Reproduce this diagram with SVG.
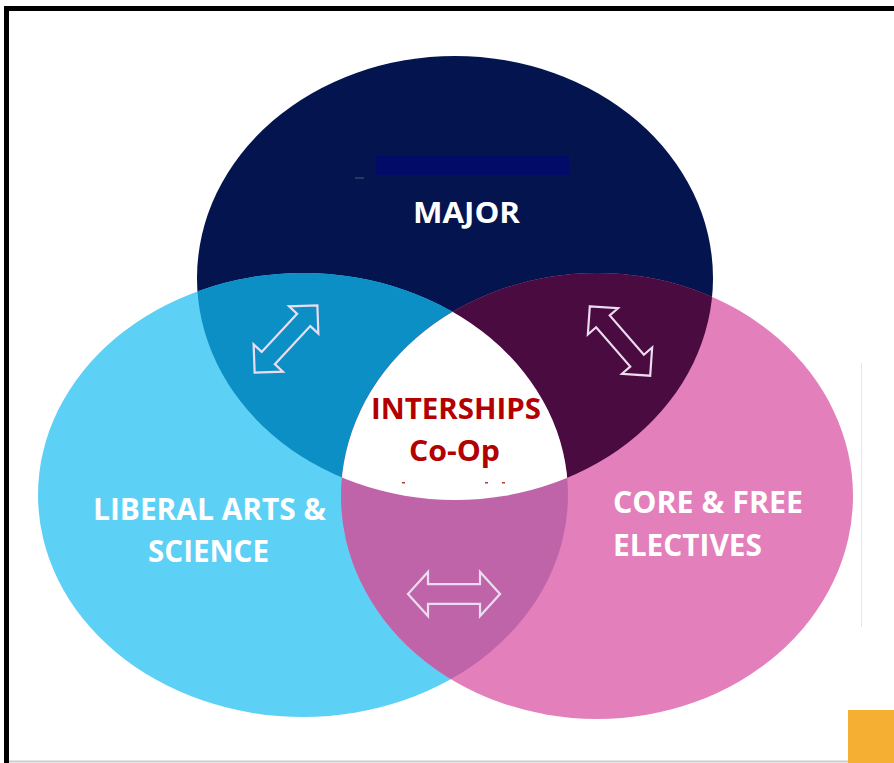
<svg xmlns="http://www.w3.org/2000/svg" width="894" height="763" viewBox="0 0 894 763">
  <style>
    .lbl { font-family: "Open Sans", "Liberation Sans", sans-serif; font-weight: bold; fill: #ffffff; }
    .red { font-family: "Open Sans", "Liberation Sans", sans-serif; font-weight: bold; fill: #b30000; }
    .arrow { fill: none; stroke: #ecdcf0; stroke-width: 2.2; stroke-linejoin: miter; }
  </style>
  <defs>
    <clipPath id="cNavy"><ellipse cx="455" cy="278" rx="258" ry="222"/></clipPath>
    <clipPath id="cLeft"><ellipse cx="303" cy="495" rx="265" ry="222"/></clipPath>
    <polygon id="dbl" points="-46,0 -26,-20 -26,-9 26,-9 26,-20 46,0 26,20 26,9 -26,9 -26,20"/>
  </defs>
  <rect width="894" height="763" fill="#ffffff"/>
  <!-- frame -->
  <path d="M6.5,763 V8.5 H894" fill="none" stroke="#000000" stroke-width="5"/>
  <line x1="9" y1="761.5" x2="848" y2="761.5" stroke="#cccccc" stroke-width="2"/>
  <line x1="861.5" y1="363" x2="861.5" y2="627" stroke="#f7dcec" stroke-width="1"/>

  <g id="major">
    <ellipse cx="455" cy="278" rx="258" ry="222" fill="#03144e"/>
  </g>
  <g id="liberal-arts">
    <ellipse cx="303" cy="495" rx="265" ry="222" fill="#5dd0f5"/>
  </g>
  <g id="core-free">
    <ellipse cx="597" cy="496" rx="256" ry="223" fill="#e37fbb"/>
  </g>
  <!-- overlaps -->
  <g id="overlaps">
    <g clip-path="url(#cNavy)">
      <ellipse cx="303" cy="495" rx="265" ry="222" fill="#0b8fc5"/>
      <ellipse cx="597" cy="496" rx="256" ry="223" fill="#490b40"/>
    </g>
    <g clip-path="url(#cLeft)">
      <ellipse cx="597" cy="496" rx="256" ry="223" fill="#c064a9"/>
      <g clip-path="url(#cNavy)">
        <ellipse cx="597" cy="496" rx="256" ry="223" fill="#ffffff"/>
      </g>
    </g>
  </g>

  <g id="major-label">
    <rect x="376" y="156" width="193" height="19" fill="#020b68"/>
    <rect x="355" y="177" width="9" height="2" fill="#2a3560"/>
    <text class="lbl" x="413" y="223" font-size="29" textLength="107" lengthAdjust="spacingAndGlyphs">MAJOR</text>
  </g>
  <g id="liberal-label">
    <text class="lbl" x="93" y="520" font-size="30" textLength="233" lengthAdjust="spacingAndGlyphs">LIBERAL ARTS &amp;</text>
    <text class="lbl" x="148" y="562" font-size="30" textLength="121" lengthAdjust="spacingAndGlyphs">SCIENCE</text>
  </g>
  <g id="core-label">
    <text class="lbl" x="613" y="513" font-size="30" textLength="190" lengthAdjust="spacingAndGlyphs">CORE &amp; FREE</text>
    <text class="lbl" x="613" y="556" font-size="30" textLength="149" lengthAdjust="spacingAndGlyphs">ELECTIVES</text>
  </g>
  <g id="center">
    <text class="red" x="371" y="419" font-size="28" textLength="170" lengthAdjust="spacingAndGlyphs">INTERSHIPS</text>
    <text class="red" x="409" y="461" font-size="28" textLength="91" lengthAdjust="spacingAndGlyphs">Co-Op</text>
    <rect x="402" y="482" width="3" height="1.5" fill="#b34040"/>
    <rect x="485" y="482" width="3" height="1.5" fill="#b34040"/>
    <rect x="502" y="482" width="3" height="1.5" fill="#b34040"/>
  </g>

  <g id="connectors">
    <use href="#dbl" class="arrow" transform="translate(286,339) rotate(-47)"/>
    <use href="#dbl" class="arrow" transform="translate(620,341) rotate(49)"/>
    <use href="#dbl" class="arrow" transform="translate(454,594) scale(1,1.1)"/>
  </g>

  <rect x="848" y="710" width="46" height="53" fill="#f5b033"/>
</svg>
